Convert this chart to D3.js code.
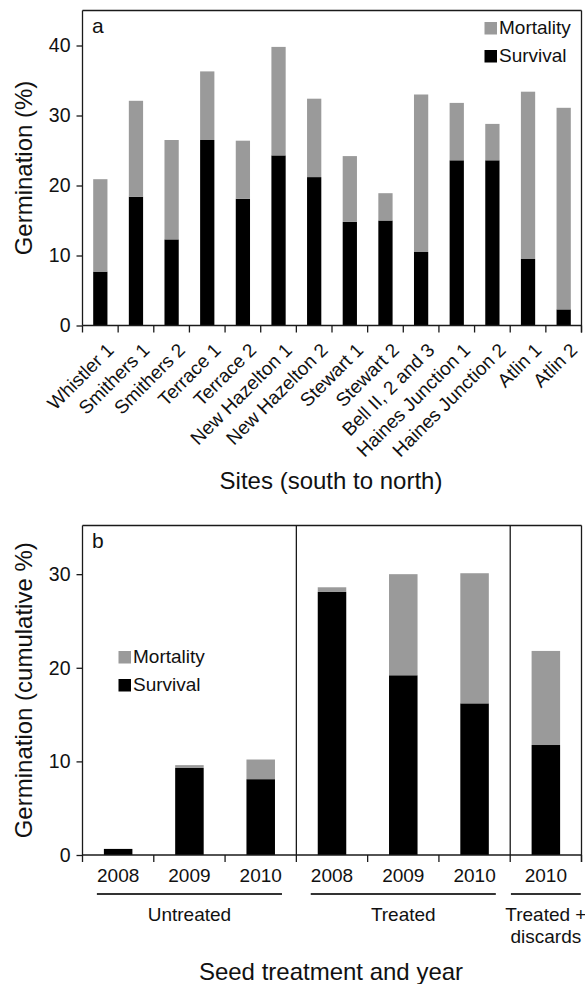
<!DOCTYPE html>
<html>
<head>
<meta charset="utf-8">
<script src="https://cdn.jsdelivr.net/npm/d3@7"></script>
<style>
  body { margin: 0; background: #fff; }
  text { font-family: "Liberation Sans", Arial, Helvetica, sans-serif; fill: #111; }
</style>
</head>
<body>
<script>
// panel a: sites, south to north
var sites = ["Whistler 1", "Smithers 1", "Smithers 2", "Terrace 1", "Terrace 2",
    "New Hazelton 1", "New Hazelton 2", "Stewart 1", "Stewart 2", "Bell II, 2 and 3",
    "Haines Junction 1", "Haines Junction 2", "Atlin 1", "Atlin 2"];
var siteSurvival  = [7.7, 18.4, 12.3, 26.5, 18.1, 24.3, 21.2, 14.8, 15.0, 10.5, 23.6, 23.6, 9.5, 2.3];
var siteMortality = [13.2, 13.7, 14.2, 9.8, 8.3, 15.5, 11.2, 9.4, 3.9, 22.5, 8.2, 5.2, 23.9, 28.8];
var siteTicks = [0, 10, 20, 30, 40];

// panel b: seed treatment and year
var treatYears = ["2008", "2009", "2010", "2008", "2009", "2010", "2010"];
var treatGroups = ["Untreated", "Untreated", "Untreated", "Treated", "Treated", "Treated", "Treated +\ndiscards"];
var treatSurvival  = [0.65, 9.3, 8.1, 28.1, 19.2, 16.2, 11.75];
var treatMortality = [0, 0.3, 2.1, 0.5, 10.8, 13.9, 10.05];
var treatTicks = [0, 10, 20, 30];

var legendItems = ["Mortality", "Survival"];

var svgWidth = 585, svgHeight = 984;
var left = 82.5, right = 581.5;
var ink = "#1a1a1a", grey = "#9a9a9a", black = "#000";
var colors = {Mortality: grey, Survival: black};

var svg = d3.select("body")
    .append("svg")
    .attr("width", svgWidth)
    .attr("height", svgHeight);

function drawPanel(opt) {
    var n = opt.surv.length;
    var x = d3.scaleBand()
        .domain(d3.range(n))
        .range([left, right])
        .paddingInner(0.6)
        .paddingOuter(0.3);
    var y = d3.scaleLinear()
        .domain(opt.domain)
        .range([opt.bottom, opt.top]);
    var step = x.step();
    var g = svg.append("g");

    // stacked bars
    g.selectAll("rect.surv")
        .data(opt.surv)
        .enter()
        .append("rect")
        .attr("x", (d, i) => x(i))
        .attr("width", x.bandwidth())
        .attr("y", d => y(d))
        .attr("height", d => y(0) - y(d))
        .attr("fill", black);
    g.selectAll("rect.mort")
        .data(opt.mort)
        .enter()
        .append("rect")
        .attr("x", (d, i) => x(i))
        .attr("width", x.bandwidth())
        .attr("y", (d, i) => y(opt.surv[i] + d))
        .attr("height", (d, i) => y(opt.surv[i]) - y(opt.surv[i] + d))
        .attr("fill", grey);

    // y axis
    var yAxis = g.append("g")
        .attr("transform", `translate(${left},0)`)
        .call(d3.axisLeft(y).tickValues(opt.ticks).tickSize(6).tickSizeOuter(0).tickPadding(6));
    yAxis.select(".domain").remove();
    yAxis.selectAll("line").attr("stroke", ink).attr("stroke-width", 1.3);
    yAxis.selectAll("text").attr("font-size", "19.5px").attr("font-family", null);

    // frame
    var frame = [[left, opt.top, right, opt.top], [right, opt.top, right, y(0) + 7],
                 [left, opt.top, left, y(0)], [left, y(0), right, y(0)]];
    g.selectAll("line.frame")
        .data(frame)
        .enter()
        .append("line")
        .attr("x1", d => d[0]).attr("y1", d => d[1])
        .attr("x2", d => d[2]).attr("y2", d => d[3])
        .attr("stroke", ink)
        .attr("stroke-width", 1.3);

    // ticks between categories
    var bounds = d3.range(n + 1).map(i => i < n ? x(i) - step * x.paddingOuter() : right);
    g.selectAll("line.btick")
        .data(bounds)
        .enter()
        .append("line")
        .attr("x1", d => d).attr("x2", d => d)
        .attr("y1", y(0)).attr("y2", y(0) + 7)
        .attr("stroke", ink)
        .attr("stroke-width", 1.3);

    // panel letter
    g.append("text")
        .attr("x", 92)
        .attr("y", opt.top + 22.5)
        .attr("font-size", "21px")
        .text(opt.letter);

    // legend
    var lg = g.append("g").attr("transform", `translate(${opt.legend[0]},${opt.legend[1]})`);
    lg.selectAll("rect")
        .data(legendItems)
        .enter()
        .append("rect")
        .attr("x", 0)
        .attr("y", (d, i) => i * 28 - 12)
        .attr("width", 12.5)
        .attr("height", 12.5)
        .attr("fill", d => colors[d]);
    lg.selectAll("text")
        .data(legendItems)
        .enter()
        .append("text")
        .attr("x", 14.5)
        .attr("y", (d, i) => i * 28)
        .attr("font-size", "19px")
        .text(d => d);

    // y title
    g.append("text")
        .attr("transform", `translate(32,${(opt.top + opt.bottom) / 2}) rotate(-90)`)
        .attr("text-anchor", "middle")
        .attr("font-size", "24px")
        .text(opt.ytitle);

    return {g: g, x: x, y: y, bounds: bounds};
}

// ---- panel a
var pa = drawPanel({
    surv: siteSurvival, mort: siteMortality, ticks: siteTicks,
    domain: [0, 45], top: 10.5, bottom: 325.5, letter: "a",
    legend: [484.5, 34], ytitle: "Germination (%)"
});

pa.g.selectAll("text.site")
    .data(sites)
    .enter()
    .append("text")
    .attr("transform", (d, i) => `translate(${pa.x(i) + pa.x.bandwidth() / 2 + 5},${pa.y(0) + 16}) rotate(-45)`)
    .attr("text-anchor", "end")
    .attr("dy", "0.72em")
    .attr("font-size", "19px")
    .text(d => d);

pa.g.append("text")
    .attr("x", 331)
    .attr("y", 489)
    .attr("text-anchor", "middle")
    .attr("font-size", "24px")
    .text("Sites (south to north)");

// ---- panel b
var pb = drawPanel({
    surv: treatSurvival, mort: treatMortality, ticks: treatTicks,
    domain: [0, 35.2], top: 525.5, bottom: 855, letter: "b",
    legend: [118.5, 663], ytitle: "Germination (cumulative %)"
});

var yearAxis = pb.g.append("g")
    .attr("transform", `translate(0,${pb.y(0)})`)
    .call(d3.axisBottom(pb.x).tickSize(0).tickPadding(14).tickFormat(i => treatYears[i]));
yearAxis.select(".domain").remove();
yearAxis.selectAll("text").attr("font-size", "19px").attr("font-family", null);

// separators between treatment groups
var seps = d3.range(1, treatGroups.length).filter(i => treatGroups[i] !== treatGroups[i - 1]);
pb.g.selectAll("line.sep")
    .data(seps)
    .enter()
    .append("line")
    .attr("x1", i => pb.bounds[i]).attr("x2", i => pb.bounds[i])
    .attr("y1", pb.y.range()[1]).attr("y2", pb.y(0))
    .attr("stroke", ink)
    .attr("stroke-width", 1.3);

// group underlines and labels
var groups = d3.groups(d3.range(treatGroups.length), i => treatGroups[i]);
var bw = pb.x.bandwidth();
var gg = pb.g.selectAll("g.grp")
    .data(groups)
    .enter()
    .append("g");
gg.each(function(d) {
    var first = d[1][0], last = d[1][d[1].length - 1];
    var cx = (pb.x(first) + pb.x(last) + bw) / 2;
    var half = Math.max((pb.x(last) - pb.x(first)) / 2 + bw / 2 + 7, pb.x.step() * 0.49);
    var sel = d3.select(this);
    sel.append("line")
        .attr("x1", cx - half).attr("x2", cx + half)
        .attr("y1", 894).attr("y2", 894)
        .attr("stroke", "#333")
        .attr("stroke-width", 2);
    sel.selectAll("text")
        .data(d[0].split("\n"))
        .enter()
        .append("text")
        .attr("x", cx)
        .attr("y", (t, j) => 921 + j * 22)
        .attr("text-anchor", "middle")
        .attr("font-size", "19px")
        .text(t => t);
});

pb.g.append("text")
    .attr("x", 331)
    .attr("y", 980)
    .attr("text-anchor", "middle")
    .attr("font-size", "24px")
    .text("Seed treatment and year");
</script>
</body>
</html>
